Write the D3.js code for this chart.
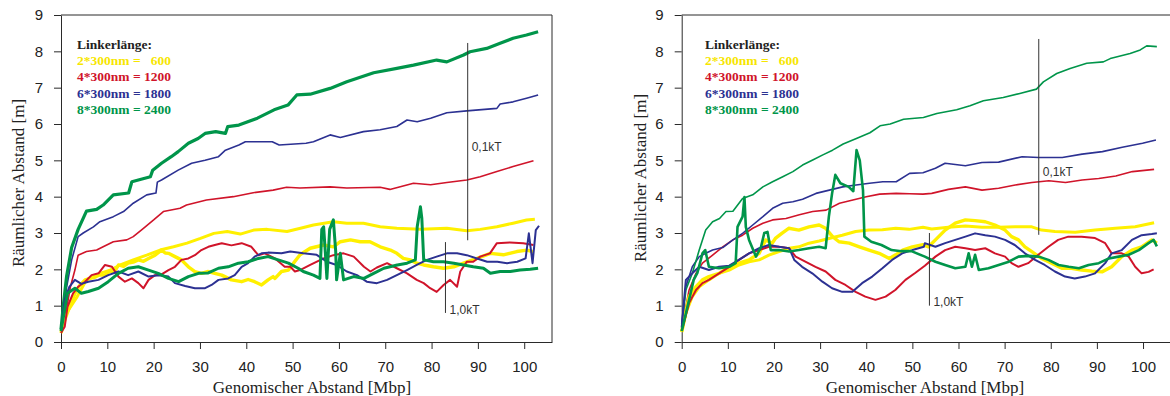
<!DOCTYPE html>
<html>
<head>
<meta charset="utf-8">
<script src="https://cdn.jsdelivr.net/npm/d3@7"></script>
<style>
    body { margin: 0; background: #fff; }
    svg { display: block; }
</style>
</head>
<body>
<svg id="chart" width="1170" height="396"></svg>
<script>
// ---- data (x = genomischer Abstand in Mbp, y = räumlicher Abstand in m) ----
const xTicks = [0, 10, 20, 30, 40, 50, 60, 70, 80, 90, 100]
const yTicks = [0, 1, 2, 3, 4, 5, 6, 7, 8, 9]

const legendTitle = "Linkerlänge:"
const legendLabels = ["2*300nm =", "4*300nm =", "6*300nm =", "8*300nm ="]
const legendValues = ["600", "1200", "1800", "2400"]
const xTitle = "Genomischer Abstand [Mbp]"
const yTitle = "Räumlicher Abstand [m]"

// left panel, 0,1kT
const leftSlowYellow = [[0,0.3],[1.2,0.8],[3.5,1.25],[5.5,1.71],[8.4,1.89],[10.6,1.98],[12.8,2.12],[15.6,2.26],[18.5,2.39],[21.4,2.53],[24.3,2.62],[27.2,2.72],[30.1,2.85],[33,2.99],[35.9,3.04],[38.7,2.97],[41.6,3.08],[44.5,3.1],[48.8,3.04],[51.7,3.13],[54.5,3.22],[58.8,3.31],[61.7,3.27],[65.3,3.27],[68.9,3.17],[72.5,3.13],[77.6,3.1],[83.3,3.13],[87.6,3.06],[90.5,3.1],[94.1,3.17],[97.6,3.27],[100.5,3.36],[102.3,3.38]]
const leftSlowRed = [[0,0.3],[1.2,0.9],[2,1.5],[3,1.98],[3.7,2.39],[5.5,2.49],[7.7,2.53],[9.1,2.62],[11.3,2.76],[14.2,2.81],[15.6,2.9],[17.8,3.13],[20,3.36],[22.1,3.59],[25.7,3.68],[27.1,3.77],[31.4,3.91],[37.2,4.0],[41.5,4.11],[45.8,4.18],[48.7,4.26],[51.6,4.24],[58.1,4.27],[61.7,4.24],[68.9,4.26],[71,4.2],[76.1,4.37],[79.8,4.33],[83.3,4.39],[87.6,4.46],[90.5,4.55],[94.1,4.69],[97.6,4.83],[102,4.99]]
const leftSlowBlue = [[0,0.3],[0.6,0.9],[1.2,1.5],[2.3,2.26],[3.7,2.9],[4.8,3.0],[7,3.17],[8.4,3.31],[11.3,3.45],[13.5,3.59],[15.6,3.82],[18.5,4.05],[20.5,4.1],[20.8,4.4],[21.7,4.46],[25.3,4.73],[28.2,4.92],[31.1,5.0],[34,5.1],[35.5,5.28],[38.4,5.42],[39.8,5.51],[45.6,5.51],[47.1,5.42],[52.9,5.47],[54.5,5.51],[58.1,5.7],[60.3,5.63],[65.3,5.79],[68.9,5.84],[72.5,5.93],[74.7,6.11],[76.9,6.06],[79.8,6.16],[83.3,6.31],[87.6,6.36],[94.1,6.43],[94.8,6.55],[97.6,6.61],[100.5,6.71],[103,6.8]]
const leftSlowGreen = [[0,0.35],[0.5,1.0],[1.2,1.8],[2.3,2.6],[3.7,3.1],[5.5,3.6],[7.7,3.65],[9.1,3.77],[11.3,4.05],[14.6,4.1],[15.3,4.41],[19.3,4.55],[19.8,4.73],[21.7,4.92],[23.8,5.1],[25.3,5.24],[27.5,5.47],[29.6,5.6],[31.1,5.74],[33.4,5.79],[35.5,5.74],[36,5.93],[38.4,5.97],[42.4,6.16],[46,6.39],[49,6.52],[50.9,6.8],[53.8,6.82],[58.1,6.98],[61.7,7.16],[67.5,7.41],[72.5,7.53],[76.1,7.62],[81.1,7.76],[83.3,7.71],[86.9,7.9],[88.3,7.99],[91.9,8.08],[94.8,8.22],[97.6,8.36],[100.5,8.45],[103,8.54]]

// left panel, 1,0kT
const leftFastYellow = [[0,0.25],[0.8,0.6],[1.6,0.88],[3,1.34],[4,1.55],[5.2,1.71],[6.3,1.75],[7.3,1.78],[8.4,1.85],[9.5,1.84],[10.5,1.95],[11.5,1.92],[12.4,2.12],[13.5,2.08],[14.5,2.17],[15.6,2.2],[16.7,2.26],[17.8,2.22],[18.9,2.3],[20.3,2.39],[21.7,2.53],[22.5,2.45],[23.2,2.44],[24.6,2.35],[26,2.26],[27.5,2.07],[28.9,1.94],[30.3,1.89],[31.8,1.94],[33.2,1.89],[34.7,1.84],[36.8,1.71],[39,1.66],[40.4,1.72],[41.8,1.66],[43.3,1.57],[44.7,1.71],[45.8,1.8],[46.2,1.75],[47.6,1.94],[49.1,1.98],[50.2,2.17],[51.6,2.4],[53.8,2.58],[56.7,2.67],[58.8,2.62],[60.3,2.76],[62.5,2.81],[64.6,2.76],[66.7,2.76],[68.9,2.62],[71.1,2.53],[72.5,2.44],[73.9,2.3],[75.4,2.26],[76.8,2.17],[78.3,2.12],[80.4,2.07],[82.6,2.03],[84.8,2.07],[86.9,2.17],[89.8,2.3],[92.7,2.44],[95.5,2.4],[98.4,2.49],[100.6,2.53],[102,2.48]]
const leftFastRed = [[0,0.25],[0.8,0.42],[1.4,0.97],[2.6,1.34],[3.7,1.52],[5.2,1.66],[6.6,1.84],[8.1,1.89],[9.5,2.12],[11,2.07],[12.4,1.8],[13.8,1.66],[15.3,1.75],[16.7,1.62],[17.8,1.48],[18.9,1.71],[20.3,1.84],[21.7,1.86],[23.2,1.98],[24.6,2.07],[26,2.26],[27.5,2.3],[28.9,2.39],[30.3,2.53],[31.8,2.62],[33.2,2.67],[34.7,2.72],[36.8,2.66],[39,2.72],[41.1,2.62],[42.6,2.39],[44,2.44],[46.2,2.3],[48.3,2.07],[49.5,2.07],[50.5,1.94],[51.6,1.98],[53.8,2.12],[56.7,2.3],[58.8,2.39],[61,2.44],[63.2,2.35],[65.4,2.07],[66.8,1.94],[68.2,2.05],[70.4,2.17],[72.5,2.03],[74.7,1.89],[76.8,1.71],[78.3,1.62],[79.7,1.48],[81.1,1.38],[82.6,1.57],[84,1.71],[85.5,1.52],[86.2,1.94],[87.6,2.21],[89,2.21],[90.5,2.35],[92.6,2.44],[94.1,2.72],[96.9,2.74],[99.8,2.72],[102,2.67]]
const leftFastBlue = [[0,0.3],[0.8,1.16],[1.8,1.52],[3,1.71],[4.4,1.6],[5.9,1.66],[8.1,1.71],[10.2,1.84],[12.4,1.94],[14.5,1.84],[16.7,1.94],[18.9,1.8],[21,1.84],[23.2,1.8],[24.6,1.62],[26.8,1.54],[28.9,1.48],[31.1,1.48],[32.5,1.57],[34,1.71],[36.1,1.75],[37.5,1.84],[39,2.07],[40.4,2.17],[41.8,2.35],[43.3,2.44],[44.7,2.46],[47.6,2.44],[49.5,2.49],[52.3,2.44],[55.2,2.4],[57.4,2.21],[59.5,2.12],[61.7,1.94],[63.9,1.84],[66,1.66],[68.2,1.62],[70.4,1.71],[72.5,1.84],[74.7,1.98],[76.8,2.12],[79,2.26],[81.1,2.35],[83.3,2.44],[85.5,2.44],[87.6,2.39],[89.8,2.3],[92,2.21],[94.2,2.21],[96.3,2.17],[98.5,2.21],[100.3,2.3],[101,2.99],[101.8,2.17],[102.5,3.08],[103.2,3.2]]
const leftFastGreen = [[0,0.3],[1.4,1.34],[3,1.48],[4.4,1.34],[5.9,1.39],[8.1,1.48],[10.2,1.66],[12.4,1.89],[14.5,2.03],[16.7,2.07],[18.9,1.98],[21,1.89],[23.2,1.75],[25.4,1.66],[27.5,1.8],[29.7,1.89],[31.8,1.9],[34,2.03],[36.1,2.07],[38.3,2.17],[40.4,2.21],[42.6,2.3],[44.7,2.35],[46.9,2.26],[49.1,2.17],[51.2,2.03],[52.3,1.94],[54.5,1.84],[55.9,1.75],[56.3,3.1],[56.7,3.17],[57.1,2.4],[57.4,1.75],[58,3.1],[58.8,3.36],[59.3,2.5],[59.5,1.71],[60.3,2.44],[61,1.71],[63.2,1.8],[65.4,1.75],[67.5,1.89],[69.7,2.03],[72.6,2.12],[74.7,2.17],[76.5,2.26],[76.9,3.17],[77.6,3.72],[77.9,3.4],[78.3,2.26],[80.4,2.21],[82.6,2.21],[84.8,2.17],[86.9,2.12],[89,2.07],[91.2,2.03],[92.7,1.89],[94.8,1.94],[97,1.94],[99.1,1.98],[101.3,2.0],[103,2.03]]

// right panel, 0,1kT
const rightSlowYellow = [[0,0.28],[0.9,0.79],[2.3,1.25],[3.8,1.52],[5.9,1.71],[8.1,1.89],[10.3,1.98],[12.4,2.12],[14.6,2.21],[16.8,2.26],[18.9,2.39],[21.1,2.49],[23.3,2.58],[25.4,2.62],[27.6,2.72],[29.8,2.78],[31.9,2.85],[34.8,2.94],[37.7,3.04],[40.6,3.08],[43.5,3.09],[46.4,3.13],[49.3,3.1],[52.3,3.16],[54.2,3.11],[57.8,3.16],[61.5,3.19],[65.1,3.16],[68.7,3.16],[72.3,3.17],[75.9,3.17],[78,3.08],[80.9,3.04],[85.3,3.02],[89.6,3.08],[94,3.13],[98.3,3.17],[102.4,3.28]]
const rightSlowRed = [[0,0.4],[1.6,1.43],[3.1,1.89],[4.5,2.17],[6.7,2.39],[8.9,2.62],[11.1,2.81],[13.2,2.94],[15.4,3.13],[17.6,3.27],[19.7,3.36],[22.6,3.4],[25.5,3.5],[28.4,3.59],[31.3,3.63],[34.2,3.82],[37.1,3.91],[40,4.0],[42.9,4.07],[46.5,4.09],[49.4,4.08],[52.3,4.07],[54.2,4.09],[57.8,4.2],[61.5,4.27],[65.1,4.18],[68.7,4.23],[72.3,4.32],[75.9,4.39],[79.6,4.44],[83.2,4.39],[86.8,4.46],[90.4,4.5],[94.1,4.57],[97.7,4.69],[102.4,4.75]]
const rightSlowBlue = [[0,0.5],[0.9,1.52],[2.3,2.07],[3.8,2.35],[5.2,2.44],[6.7,2.53],[8.9,2.6],[11.1,2.81],[13.2,2.99],[15.4,3.22],[17.6,3.45],[19.7,3.68],[21.9,3.82],[24.1,3.86],[26.2,3.93],[29.1,4.09],[32,4.18],[34.9,4.27],[37.8,4.32],[40.7,4.37],[43.6,4.41],[46.5,4.41],[49.4,4.64],[52.3,4.66],[55,4.78],[57.1,4.92],[61.5,4.85],[65.1,4.94],[68.7,4.95],[73.8,5.1],[77.4,5.08],[82.5,5.08],[86.8,5.17],[91.2,5.24],[95.5,5.36],[99.9,5.47],[102.8,5.56]]
const rightSlowGreen = [[0,0.42],[0.9,1.43],[2.3,1.89],[3.8,2.53],[5.2,3.08],[6.7,3.31],[8.2,3.4],[9.6,3.59],[11.1,3.6],[13.2,3.95],[15.4,4.05],[17.6,4.27],[19.7,4.41],[21.9,4.55],[24.1,4.69],[26.2,4.87],[28.4,5.01],[30.6,5.15],[32.7,5.28],[35,5.45],[38,5.61],[40.8,5.76],[43,5.95],[45.2,6.0],[48.1,6.13],[52.4,6.18],[55.3,6.29],[59.6,6.39],[62.5,6.5],[65.4,6.64],[69.7,6.73],[73.3,6.84],[76.9,6.96],[78.4,7.16],[81.3,7.39],[84.2,7.53],[87.8,7.67],[91.4,7.71],[92.9,7.8],[97.2,7.94],[99.4,8.04],[100.8,8.15],[103,8.13]]

// right panel, 1,0kT
const rightFastYellow = [[0,0.28],[1.6,1.25],[3.1,1.52],[4.5,1.71],[5.9,1.8],[8.1,1.89],[10.3,2.07],[12.4,2.17],[14.6,2.26],[16.8,2.44],[18.2,2.81],[19.6,2.72],[20.3,2.85],[21.7,2.99],[23.2,3.13],[25.4,3.08],[27.6,3.17],[29.8,3.22],[31.2,3.13],[32.7,2.9],[34.1,2.76],[36.3,2.72],[38.5,2.62],[40.6,2.53],[42.8,2.44],[45,2.3],[46.4,2.4],[47.9,2.53],[50,2.62],[52.3,2.68],[53.5,2.62],[55,2.81],[57.1,3.08],[59.3,3.27],[61.5,3.36],[63.6,3.34],[65.8,3.31],[67.9,3.22],[70.1,3.08],[71.5,2.9],[73,2.81],[74.4,2.62],[75.9,2.49],[78,2.3],[80.2,2.17],[82.4,2.03],[84.5,2.03],[86.7,1.98],[88.9,1.95],[91.1,1.93],[93.2,2.07],[95.4,2.35],[97.6,2.53],[99.7,2.62],[101.9,2.81],[103,2.72]]
const rightFastRed = [[0,0.3],[1.6,1.07],[3.1,1.43],[4.5,1.62],[5.9,1.71],[8.1,1.89],[10.3,2.07],[12.4,2.26],[14.6,2.44],[16.8,2.53],[18.9,2.62],[21.1,2.62],[23.3,2.58],[24.7,2.35],[26.8,2.21],[29,2.07],[31.2,1.94],[33.3,1.71],[35.5,1.57],[37.7,1.38],[39.8,1.25],[42,1.16],[44.2,1.25],[46.3,1.43],[48.5,1.71],[50.6,1.9],[52.7,2.1],[55,2.35],[57.1,2.53],[59.3,2.62],[61.5,2.58],[63.6,2.53],[65.8,2.58],[67.9,2.44],[70.1,2.35],[71.5,2.17],[73,2.07],[75.1,2.17],[77.3,2.4],[79.5,2.62],[81.6,2.81],[83.8,2.9],[86.7,2.9],[89.6,2.86],[91.8,2.72],[93.2,2.44],[95.4,2.44],[96.9,2.35],[98.3,2.07],[99.7,1.89],[101.2,1.93],[102.3,2.0]]
const rightFastBlue = [[0,0.4],[0.9,1.71],[2.3,1.89],[3.8,2.07],[5.9,1.98],[8.1,2.07],[10.3,2.1],[12.4,2.26],[14.6,2.44],[16.8,2.58],[18.9,2.67],[21.1,2.62],[23.3,2.58],[24.4,2.26],[26.1,2.07],[28.3,1.89],[30.5,1.66],[32.6,1.48],[34.8,1.38],[37,1.38],[39.1,1.62],[41.3,1.8],[43.5,2.03],[45.6,2.26],[47.8,2.44],[50,2.53],[52.5,2.62],[52.7,2.72],[55,2.62],[57.1,2.72],[59.3,2.81],[61.5,2.9],[63.6,2.99],[65.8,2.94],[67.9,2.9],[70.1,2.81],[72.2,2.67],[74.4,2.44],[76.6,2.26],[78.7,2.12],[80.9,1.94],[83.1,1.8],[85.2,1.75],[87.4,1.8],[89.6,1.89],[91.8,2.17],[93.2,2.44],[95.4,2.53],[97.6,2.81],[99.7,2.94],[101.9,2.97],[103,2.99]]
const rightFastGreen = [[0,0.3],[1.6,1.16],[2.6,1.71],[3.4,1.9],[4.5,2.44],[5.1,2.53],[5.9,2.07],[8.1,2.03],[10.3,2.07],[11.7,2.17],[12.1,3.17],[13.2,3.45],[13.6,3.99],[13.9,3.17],[14.6,2.81],[16.1,2.35],[17.2,2.62],[17.9,3.0],[18.6,3.03],[19.3,2.53],[21.1,2.53],[23.3,2.49],[25.4,2.53],[27.6,2.58],[29.8,2.62],[31.2,2.58],[31.9,3.45],[32.6,4.09],[33.3,4.6],[34.4,4.37],[36.2,4.27],[37.2,4.15],[37.9,5.28],[38.6,5.0],[39.3,4.18],[39.6,2.9],[41.1,2.76],[43.3,2.67],[45.5,2.53],[47.6,2.5],[49.8,2.5],[52.7,2.35],[55,2.21],[57.1,2.12],[59.3,2.03],[61.5,2.07],[62.2,2.44],[62.9,2.07],[63.6,2.4],[64.4,1.98],[66.5,2.03],[68.7,2.12],[70.9,2.21],[73,2.35],[75.2,2.37],[77.4,2.35],[79.5,2.26],[81.7,2.12],[83.9,2.07],[86.1,2.03],[88.2,2.12],[90.4,2.17],[92.6,2.3],[94.7,2.35],[96.9,2.4],[99.1,2.53],[101.2,2.72],[102.3,2.81],[103,2.63]]

// temperature markers: [x, yTop, yBottom, label, labelY]
const leftMarks = [[87.8, 8.23, 2.8, "0,1kT", 5.26], [83, 2.75, 0.8, "1,0kT", 0.77]]
const rightMarks = [[77.4, 8.34, 2.95, "0,1kT", 4.57], [53.7, 3.0, 1.0, "1,0kT", 0.99]]

// ---- styles ----
const colors = ["#fff000", "#d0142a", "#2c3192", "#00954a"]
const legendColors = ["#f7e600", "#d0142a", "#2c3192", "#00954a"]
const frameColor = "#2a2a2a"
const sans = "'Liberation Sans', Arial, sans-serif"
const serif = "'Liberation Serif', 'Times New Roman', serif"

const panels = [
    {
        left: 61, width: 491,
        slow: [leftSlowYellow, leftSlowRed, leftSlowBlue, leftSlowGreen],
        fast: [leftFastYellow, leftFastRed, leftFastBlue, leftFastGreen],
        slowWidths: [3, 1.6, 1.6, 3.2],
        fastWidths: [3.4, 2, 2, 3],
        marks: leftMarks,
        legendX: 77, xTitleX: 312, yTitleX: 18, yTitleY: 183
    },
    {
        left: 681.7, width: 489,
        slow: [rightSlowYellow, rightSlowRed, rightSlowBlue, rightSlowGreen],
        fast: [rightFastYellow, rightFastRed, rightFastBlue, rightFastGreen],
        slowWidths: [3, 1.6, 1.6, 1.6],
        fastWidths: [3.4, 2, 2, 2.6],
        marks: rightMarks,
        legendX: 705, xTitleX: 925, yTitleX: 640, yTitleY: 178
    }
]

const plotTop = 15
const plotBottom = 342

const svg = d3.select("#chart")

const drawPanel = (p) => {
    const g = svg.append("g")

    const x = d3.scaleLinear().domain([0, 106]).range([p.left, p.left + p.width])
    const y = d3.scaleLinear().domain([0, 9]).range([plotBottom, plotTop])

    const line = d3.line()
        .x((d) => x(d[0]))
        .y((d) => y(d[1]))

    // frame lines on top and right
    g.append("line")
        .attr("x1", p.left).attr("x2", p.left + p.width)
        .attr("y1", plotTop).attr("y2", plotTop)
        .attr("stroke", frameColor)
    g.append("line")
        .attr("x1", p.left + p.width).attr("x2", p.left + p.width)
        .attr("y1", plotTop).attr("y2", plotBottom)
        .attr("stroke", frameColor)

    const styleAxis = (sel) => {
        sel.selectAll("path,line").attr("stroke", frameColor)
        sel.selectAll("text")
            .attr("fill", "#222")
            .attr("font-family", sans)
            .attr("font-size", 15)
    }

    g.append("g")
        .attr("transform", `translate(0,${plotBottom})`)
        .call(d3.axisBottom(x).tickValues(xTicks).tickSize(7).tickPadding(12).tickSizeOuter(0))
        .call(styleAxis)

    g.append("g")
        .attr("transform", `translate(${p.left},0)`)
        .call(d3.axisLeft(y).tickValues(yTicks).tickSize(7).tickPadding(11).tickSizeOuter(0))
        .call(styleAxis)

    // curves: 0,1kT first, then 1,0kT
    const lines = g.append("g").attr("fill", "none")
        .attr("stroke-linejoin", "round")
    p.slow.forEach((s, i) => {
        lines.append("path").datum(s)
            .attr("d", line)
            .attr("stroke", colors[i])
            .attr("stroke-width", p.slowWidths[i])
    })
    p.fast.forEach((s, i) => {
        lines.append("path").datum(s)
            .attr("d", line)
            .attr("stroke", colors[i])
            .attr("stroke-width", p.fastWidths[i])
    })

    // temperature markers
    p.marks.forEach((m) => {
        g.append("line")
            .attr("x1", x(m[0])).attr("x2", x(m[0]))
            .attr("y1", y(m[1])).attr("y2", y(m[2]))
            .attr("stroke", "#333").attr("stroke-width", 1)
        g.append("text")
            .attr("x", x(m[0]) + 4)
            .attr("y", y(m[4]))
            .attr("font-family", sans)
            .attr("font-size", 12)
            .attr("fill", "#333")
            .text(m[3])
    })

    // legend
    const legend = g.append("g")
        .attr("font-family", serif)
        .attr("font-weight", "bold")
        .attr("font-size", 13.5)
    legend.append("text")
        .attr("x", p.legendX).attr("y", 48.5)
        .attr("fill", "#222")
        .text(legendTitle)
    legendLabels.forEach((label, i) => {
        const ly = 65 + i * 16.3
        legend.append("text")
            .attr("x", p.legendX).attr("y", ly)
            .attr("fill", legendColors[i])
            .text(label)
        legend.append("text")
            .attr("x", p.legendX + 94).attr("y", ly)
            .attr("text-anchor", "end")
            .attr("fill", legendColors[i])
            .text(legendValues[i])
    })

    // axis titles
    g.append("text")
        .attr("x", p.xTitleX).attr("y", 393)
        .attr("text-anchor", "middle")
        .attr("font-family", serif)
        .attr("font-size", 17)
        .attr("fill", "#222")
        .text(xTitle)

    g.append("text")
        .attr("transform", `translate(${p.yTitleX + 6},${p.yTitleY}) rotate(-90)`)
        .attr("text-anchor", "middle")
        .attr("font-family", serif)
        .attr("font-size", 17)
        .attr("fill", "#222")
        .text(yTitle)
}

panels.forEach(drawPanel)
</script>
</body>
</html>
